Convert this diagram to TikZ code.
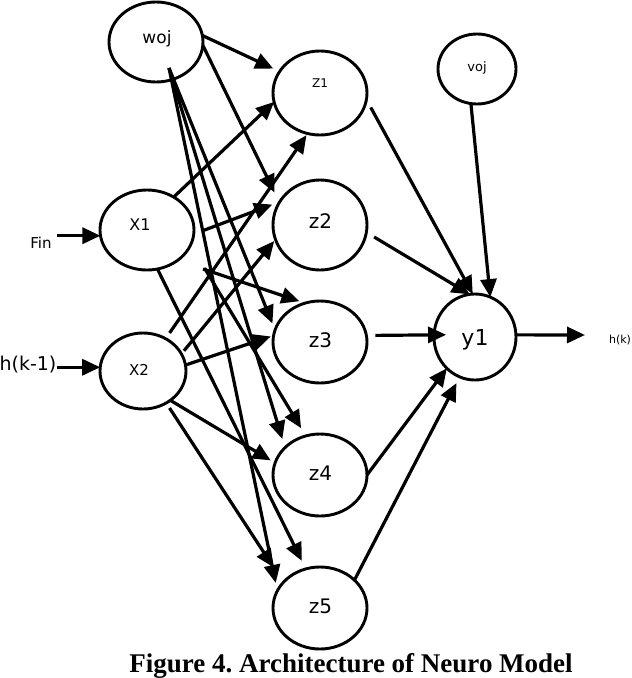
\documentclass[tikz,border=0pt]{standalone}
\usepackage{fontspec}
\setmainfont{Liberation Serif}
\setsansfont{DejaVu Sans}
\usetikzlibrary{arrows.meta,shapes.geometric}
\frenchspacing
\begin{document}
\begin{tikzpicture}[x=1pt,y=-1pt,
  neuron/.style={draw,ellipse,line width=2.9pt,inner sep=0pt,outer sep=0pt},
  lab/.style={anchor=base,inner sep=0pt},
  arr/.style={line width=3.2pt,-{Triangle[length=18pt,width=16pt]}},
]
\fill[white] (0,0) rectangle (632,678);
\useasboundingbox (0,0) rectangle (632,678);

% neurons
\node[neuron,minimum width=94pt,minimum height=80pt] (woj) at (156,42) {};
\node[neuron,minimum width=94pt,minimum height=80pt] (X1) at (147,230) {};
\node[neuron,minimum width=86pt,minimum height=76pt] (X2) at (143,371) {};
\node[neuron,minimum width=94pt,minimum height=84pt] (z1) at (320,93) {};
\node[neuron,minimum width=94pt,minimum height=90pt] (z2) at (320,225) {};
\node[neuron,minimum width=94pt,minimum height=82pt] (z3) at (320,342) {};
\node[neuron,minimum width=94pt,minimum height=82pt] (z4) at (320,475) {};
\node[neuron,minimum width=94pt,minimum height=82pt] (z5) at (320,608) {};
\node[neuron,minimum width=78pt,minimum height=70pt] (voj) at (477,69) {};
\node[neuron,minimum width=82pt,minimum height=86pt] (y1) at (475,337) {};

% texts
\node[lab,font=\sffamily\fontsize{17}{17}\selectfont] (wojt) at (157,43) {woj};
\node[lab,font=\sffamily\fontsize{16}{16}\selectfont] (X1t) at (140,230) {X1};
\node[lab,font=\sffamily\fontsize{15}{15}\selectfont] (X2t) at (139,375) {X2};
\node[lab,font=\sffamily\fontsize{12}{12}\selectfont] (z1t) at (320,87) {Z1};
\node[lab,font=\sffamily\fontsize{20}{20}\selectfont] (z2t) at (320.5,228) {z2};
\node[lab,font=\sffamily\fontsize{20}{20}\selectfont] (z3t) at (320.5,347) {z3};
\node[lab,font=\sffamily\fontsize{20}{20}\selectfont] (z4t) at (320.5,480) {z4};
\node[lab,font=\sffamily\fontsize{20}{20}\selectfont] (z5t) at (320.5,613) {z5};
\node[lab,font=\sffamily\fontsize{22}{22}\selectfont] (y1t) at (475,345) {y1};
\node[lab,font=\sffamily\fontsize{13}{13}\selectfont] (vojt) at (477,71) {voj};
\node[lab,font=\sffamily\fontsize{15}{15}\selectfont] (Fint) at (41,248) {Fin};
\node[lab,font=\sffamily\fontsize{19}{19}\selectfont] (hkm) at (28,370) {h(k-1)};
\node[lab,font=\sffamily\fontsize{11}{11}\selectfont] (hk) at (620,343) {h(k)};
\node[lab,font=\bfseries\fontsize{27}{30}\selectfont] (cap) at (351,672) {Figure 4. Architecture of Neuro Model};

\coordinate (fan) at ([shift={(13,26)}]woj.center);
\coordinate (out) at (585,335);

% woj to hidden
\draw[arr,shorten >=7pt] (woj.8) -- (z1.152);
\draw[arr,shorten >=11pt] (woj.-4) -- (z2.151);
\draw[arr,shorten >=7pt] (fan) -- (z3.165);
\draw[arr,shorten >=9pt] (fan) -- (z4.142);
\draw[arr,shorten >=8pt] (fan) -- (z5.158);
% X1 to hidden
\draw[arr] (X1.51) -- (z1.191);
\draw[arr,shorten <=9pt,shorten >=8pt] (X1.-5) -- (z2.150);
\draw[arr,shorten <=27pt,shorten >=6pt] (X1.-45) -- (z3.111);
\draw[arr,shorten <=27pt,shorten >=9pt] (X1.-19) -- (z4.110);
\draw[arr,shorten >=9pt] (X1.-75) -- (z5.110);
% X2 to hidden
\draw[arr,shorten <=7pt,shorten >=2pt] (X2.55) -- (z1.-107);
\draw[arr,shorten <=4pt,shorten >=2pt] (X2.24) -- (z2.-162);
\draw[arr,shorten >=3pt] (X2.8) -- (z3.172);
\draw[arr,shorten >=5pt] (X2.-47) -- (z4.165);
\draw[arr,shorten <=6pt,shorten >=18pt] (X2.-54) -- (z5.145);
% hidden to output
\draw[arr,shorten <=9pt] (z1.-8) -- (y1.93);
\draw[arr,shorten <=9pt] (z2.-9) -- (y1.97);
\draw[arr] (voj.-100) -- (y1.69);
\draw[arr,shorten <=9pt,shorten >=-12pt] (z3.8) -- (y1.177);
\draw[arr] (z4.0) -- (y1.-132);
\draw[arr,shorten >=7pt] (z5.39) -- (y1.-111);
\draw[arr] (y1.3) -- (out);
% inputs
\draw[arr,shorten <=5pt] (X1.187 -| Fint.east) -- (X1.187);
\draw[arr] (X2.175 -| hkm.east) -- (X2.175);
\end{tikzpicture}
\end{document}
